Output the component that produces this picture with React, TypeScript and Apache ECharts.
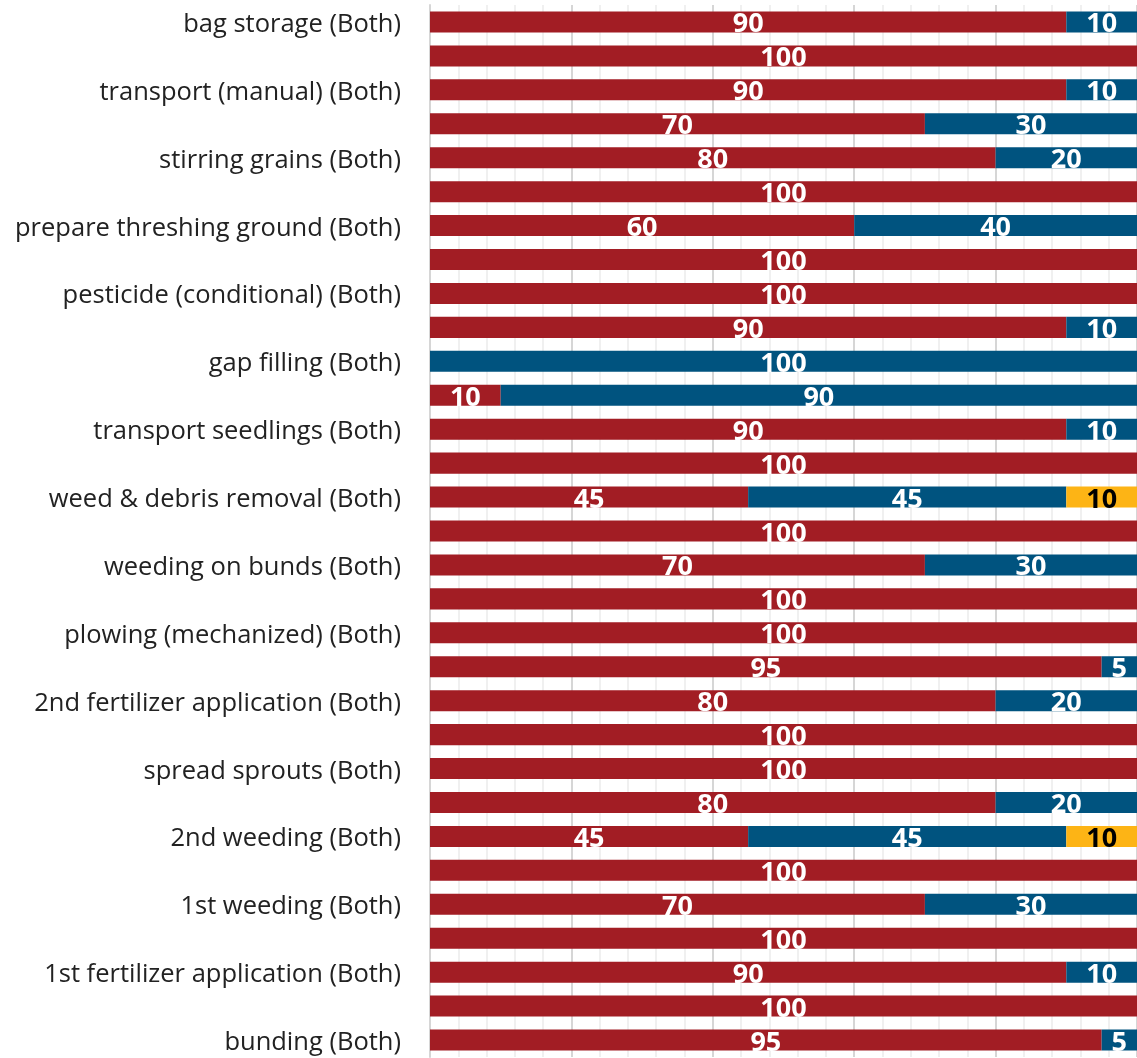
import React, { useEffect, useRef } from "react";
import * as echarts from "echarts";

const categories: string[] = [
  "bag storage (Both)", "",
  "transport (manual) (Both)", "",
  "stirring grains (Both)", "",
  "prepare threshing ground (Both)", "",
  "pesticide (conditional) (Both)", "",
  "gap filling (Both)", "",
  "transport seedlings (Both)", "",
  "weed & debris removal (Both)", "",
  "weeding on bunds (Both)", "",
  "plowing (mechanized) (Both)", "",
  "2nd fertilizer application (Both)", "",
  "spread sprouts (Both)", "",
  "2nd weeding (Both)", "",
  "1st weeding (Both)", "",
  "1st fertilizer application (Both)", "",
  "bunding (Both)",
];

const redValues: (number | null)[] = [
  90, 100, 90, 70, 80, 100, 60, 100, 100, 90, null, 10, 90, 100, 45, 100,
  70, 100, 100, 95, 80, 100, 100, 80, 45, 100, 70, 100, 90, 100, 95,
];
const blueValues: (number | null)[] = [
  10, null, 10, 30, 20, null, 40, null, null, 10, 100, 90, 10, null, 45, null,
  30, null, null, 5, 20, null, null, 20, 45, null, 30, null, 10, null, 5,
];
const yellowValues: (number | null)[] = [
  null, null, null, null, null, null, null, null, null, null, null, null, null, null, 10, null,
  null, null, null, null, null, null, null, null, 10, null, null, null, null, null, null,
];

const seriesNames = ["Series 1", "Series 2", "Series 3"];
const xTicks = { min: 0, max: 100, interval: 20 };

export default function App() {
  const ref = useRef<HTMLDivElement>(null);
  useEffect(() => {
    if (!ref.current) return;
    const chart = echarts.init(ref.current, undefined, { renderer: "svg" });
    const labelFont = {
      fontFamily: "Open Sans",
      fontWeight: "bold" as const,
      fontSize: 27,
      lineHeight: 24,
    };
    const mk = (name: string, data: (number | null)[], color: string, textColor: string) => ({
      name,
      type: "bar" as const,
      stack: "total",
      data,
      barCategoryGap: "38%",
      itemStyle: { color },
      label: {
        show: true,
        position: "inside" as const,
        color: textColor,
        ...labelFont,
        formatter: (p: any) => (p.value ? String(p.value) : ""),
      },
    });
    chart.setOption({
      animation: false,
      grid: { left: 430, right: 0, top: 5, bottom: 1, containLabel: false },
      xAxis: {
        type: "value",
        min: xTicks.min,
        max: xTicks.max,
        interval: xTicks.interval,
        axisLabel: { show: false },
        axisLine: { show: false },
        axisTick: { show: false },
        splitLine: { show: true, lineStyle: { color: "#d6d6d6", width: 2 } },
        minorTick: { show: false, splitNumber: 5 },
        minorSplitLine: { show: true, lineStyle: { color: "#ebebeb", width: 1.5 } },
      },
      yAxis: {
        type: "category",
        inverse: true,
        data: categories,
        axisLine: { show: true, lineStyle: { color: "#d6d6d6", width: 2 } },
        axisTick: { show: false },
        axisLabel: {
          interval: 0,
          margin: 29,
          color: "#222",
          fontFamily: "Open Sans",
          fontSize: 25.5,
        },
      },
      series: [
        mk(seriesNames[0], redValues, "#A21D24", "#ffffff"),
        mk(seriesNames[1], blueValues, "#00537F", "#ffffff"),
        mk(seriesNames[2], yellowValues, "#FDB415", "#000000"),
      ],
    });
    return () => chart.dispose();
  }, []);
  return (
    <div
      ref={ref}
      style={{ position: "fixed", left: 0, top: 0, width: 1137, height: 1058 }}
    />
  );
}
